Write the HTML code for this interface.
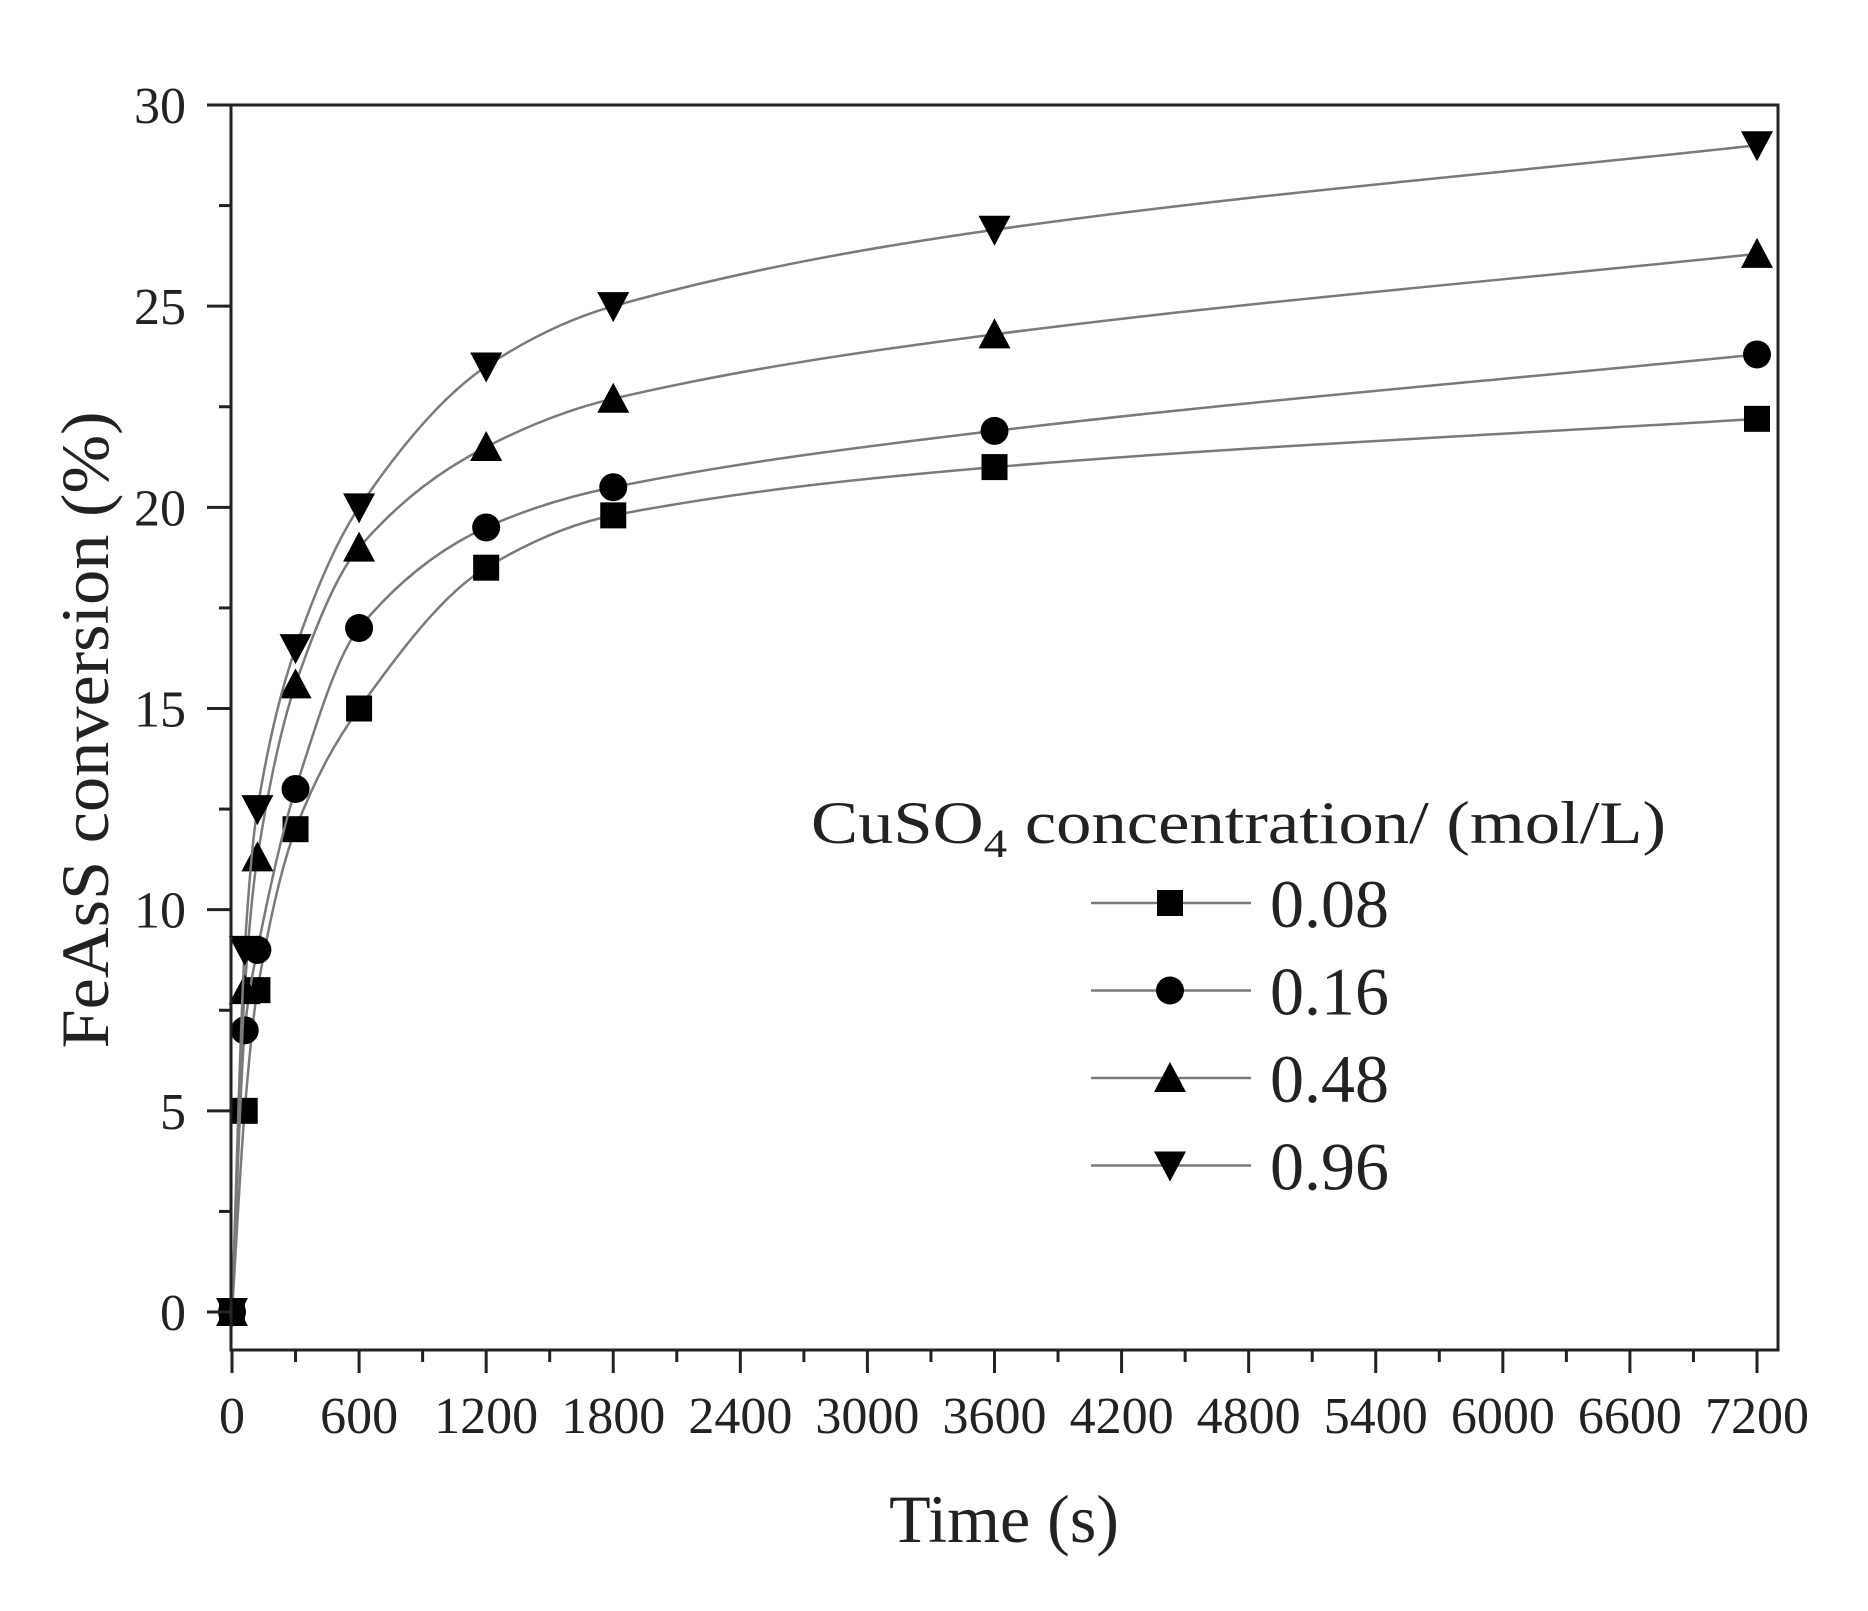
<!DOCTYPE html>
<html><head><meta charset="utf-8"><style>
html,body{margin:0;padding:0;background:#fff}
svg{display:block}
text{font-family:"Liberation Serif",serif;fill:#222}
</style></head><body>
<svg id="chart" width="1868" height="1611" viewBox="0 0 1868 1611" xmlns="http://www.w3.org/2000/svg">
<rect width="1868" height="1611" fill="#fff"/>
<g id="series"></g>
<g id="axes"></g>
<text transform="translate(108,730) rotate(-90)" text-anchor="middle" font-size="68" textLength="637" lengthAdjust="spacingAndGlyphs">FeAsS conversion (%)</text>
<text x="1004" y="1542" text-anchor="middle" font-size="68">Time (s)</text>
<g id="legend">
<text x="811" y="843" font-size="60" textLength="855" lengthAdjust="spacingAndGlyphs">CuSO<tspan font-size="40" dy="14">4</tspan><tspan dy="-14"> concentration/ (mol/L)</tspan></text>
</g>
</svg>
<script>
const times = [0, 60, 120, 300, 600, 1200, 1800, 3600, 7200];
const labels = ["0.08", "0.16", "0.48", "0.96"];
const s008 = [0, 5, 8, 12, 15, 18.5, 19.8, 21, 22.2];
const s016 = [0, 7, 9, 13, 17, 19.5, 20.5, 21.9, 23.8];
const s048 = [0, 8, 11.3, 15.6, 19, 21.5, 22.7, 24.3, 26.3];
const s096 = [0, 9, 12.5, 16.5, 20, 23.5, 25, 26.9, 29];
const xTicks = [0, 600, 1200, 1800, 2400, 3000, 3600, 4200, 4800, 5400, 6000, 6600, 7200];
const yTicks = [0, 5, 10, 15, 20, 25, 30];

const NS = "http://www.w3.org/2000/svg";
const X0 = 232, X1 = 1757, Y0 = 1312, Y1 = 105;
const xs = t => X0 + (t / 7200) * (X1 - X0);
const ys = v => Y0 - (v / 30) * (Y0 - Y1);
function mk(tag, attrs, parent) {
  const e = document.createElementNS(NS, tag);
  for (const k in attrs) e.setAttribute(k, attrs[k]);
  parent.appendChild(e);
  return e;
}
const axes = document.getElementById("axes");
const ser = document.getElementById("series");
const leg = document.getElementById("legend");

// frame
const frame = mk("rect", {x: 231, y: 105, width: 1547, height: 1245, fill: "none", stroke: "#222", "stroke-width": 3}, axes);



xTicks.forEach((t, i) => {
  const x = xs(t);
  const tk = mk("line", {x1: x, x2: x, y1: 1350, y2: 1373, stroke: "#222", "stroke-width": 3}, axes);
  
  
  if (i < xTicks.length - 1) {
    const xm = xs(t + 300);
    const mt = mk("line", {x1: xm, x2: xm, y1: 1350, y2: 1362, stroke: "#222", "stroke-width": 3}, axes);
    
    
  }
  const lb = mk("text", {x: x, y: 1433, "text-anchor": "middle", "font-size": 52}, axes);
  lb.textContent = String(t);
  
  
});
yTicks.forEach((v, i) => {
  const y = ys(v);
  const tk = mk("line", {x1: 207, x2: 231, y1: y, y2: y, stroke: "#222", "stroke-width": 3}, axes);
  
  
  if (i < yTicks.length - 1) {
    const ym = ys(v + 2.5);
    const mt = mk("line", {x1: 219, x2: 231, y1: ym, y2: ym, stroke: "#222", "stroke-width": 3}, axes);
    
    
  }
  const lb = mk("text", {x: 186, y: y + 18, "text-anchor": "end", "font-size": 52}, axes);
  lb.textContent = String(v);
  
  
});

function marker(kind, cx, cy, parent) {
  let e;
  const r = 14;
  if (kind === 0) e = mk("rect", {x: cx - r + 1, y: cy - r + 1, width: 2 * r - 2, height: 2 * r - 2, fill: "#000"}, parent);
  else if (kind === 1) e = mk("circle", {cx: cx, cy: cy, r: r, fill: "#000"}, parent);
  else if (kind === 2) e = mk("polygon", {points: `${cx},${cy - r - 2} ${cx + r + 2},${cy + r} ${cx - r - 2},${cy + r}`, fill: "#000"}, parent);
  else e = mk("polygon", {points: `${cx},${cy + r + 2} ${cx + r + 2},${cy - r} ${cx - r - 2},${cy - r}`, fill: "#000"}, parent);
  return e;
}

// monotone cubic spline path
function splinePath(px, py) {
  const n = px.length, d = [], m = [];
  for (let i = 0; i < n - 1; i++) d.push((py[i + 1] - py[i]) / (px[i + 1] - px[i]));
  m.push(d[0]);
  for (let i = 1; i < n - 1; i++) m.push(d[i - 1] * d[i] <= 0 ? 0 : 2 / (1 / d[i - 1] + 1 / d[i]));
  m.push(d[n - 2]);
  let p = `M${px[0]},${py[0]}`;
  for (let i = 0; i < n - 1; i++) {
    const h = (px[i + 1] - px[i]) / 3;
    p += ` C${px[i] + h},${py[i] + m[i] * h} ${px[i + 1] - h},${py[i + 1] - m[i + 1] * h} ${px[i + 1]},${py[i + 1]}`;
  }
  return p;
}

const allSeries = [s008, s016, s048, s096];
allSeries.forEach((vals, si) => {
  const g = mk("g", {}, ser);
  
  
  const px = times.map(xs), py = vals.map(ys);
  const ln = mk("path", {d: splinePath(px, py), fill: "none", stroke: "#7a7a7a", "stroke-width": 2.5}, g);
  
  
  vals.forEach((v, i) => {
    const m = marker(si, xs(times[i]), ys(v), g);
    
    
  });
  // legend entry
  const ly = 903 + si * 87.5;
  const le = mk("g", {}, leg);
  
  
  mk("line", {x1: 1091, x2: 1251, y1: ly, y2: ly, stroke: "#7a7a7a", "stroke-width": 2.5}, le);
  marker(si, 1170, ly, le);
  const t = mk("text", {x: 1270, y: ly + 24, "font-size": 68}, le);
  t.textContent = labels[si];
});
</script>
</body></html>
